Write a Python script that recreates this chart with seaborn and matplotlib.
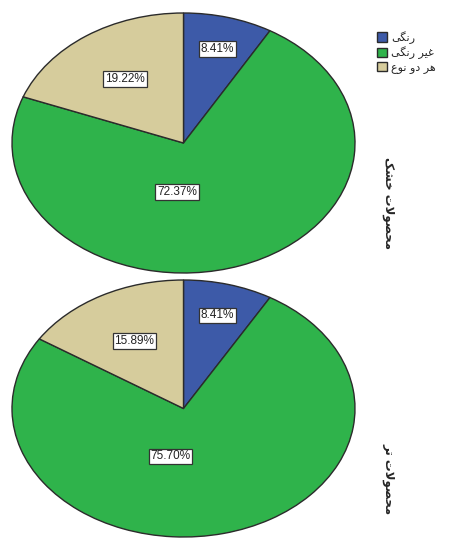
import matplotlib
matplotlib.use("Agg")
import matplotlib.pyplot as plt
import seaborn as sns
import numpy as np

# data
categories = ["رنگی", "غیر رنگی", "هر دو نوع"]
row_labels = ["محصولات خشک", "محصولات تر"]
dry_pct = [8.41, 72.37, 19.22]
wet_pct = [8.41, 75.70, 15.89]

colors = ["#3d5aa8", "#2fb34b", "#d6cc9c"]
edge = "#2b2b2b"

# --- minimal arabic/persian shaping (matplotlib has no text shaping) ---
FORMS = {
    "ر": ("\uFEAD", "\uFEAE", None, None),
    "د": ("\uFEA9", "\uFEAA", None, None),
    "و": ("\uFEED", "\uFEEE", None, None),
    "ا": ("\uFE8D", "\uFE8E", None, None),
    "ن": ("\uFEE5", "\uFEE6", "\uFEE7", "\uFEE8"),
    "گ": ("\uFB92", "\uFB93", "\uFB94", "\uFB95"),
    "ی": ("\uFBFC", "\uFBFD", "\uFBFE", "\uFBFF"),
    "غ": ("\uFECD", "\uFECE", "\uFECF", "\uFED0"),
    "ه": ("\uFEE9", "\uFEEA", "\uFEEB", "\uFEEC"),
    "ع": ("\uFEC9", "\uFECA", "\uFECB", "\uFECC"),
    "م": ("\uFEE1", "\uFEE2", "\uFEE3", "\uFEE4"),
    "ح": ("\uFEA1", "\uFEA2", "\uFEA3", "\uFEA4"),
    "ص": ("\uFEB9", "\uFEBA", "\uFEBB", "\uFEBC"),
    "ل": ("\uFEDD", "\uFEDE", "\uFEDF", "\uFEE0"),
    "ت": ("\uFE95", "\uFE96", "\uFE97", "\uFE98"),
    "خ": ("\uFEA5", "\uFEA6", "\uFEA7", "\uFEA8"),
    "ش": ("\uFEB5", "\uFEB6", "\uFEB7", "\uFEB8"),
    "ک": ("\uFB8E", "\uFB8F", "\uFB90", "\uFB91"),
}


def dual(c):
    return c in FORMS and FORMS[c][2] is not None


def shape(text):
    out = []
    i = 0
    n = len(text)
    while i < n:
        c = text[i]
        prev = text[i - 1] if i > 0 else None
        nxt = text[i + 1] if i + 1 < n else None
        if c not in FORMS:
            out.append(c)
            i += 1
            continue
        jp = dual(prev)
        if c == "ل" and nxt == "ا":
            out.append("\uFEFC" if jp else "\uFEFB")
            i += 2
            continue
        jn = dual(c) and nxt in FORMS
        f = FORMS[c]
        if jp and jn:
            out.append(f[3])
        elif jp:
            out.append(f[1])
        elif jn:
            out.append(f[2])
        else:
            out.append(f[0])
        i += 1
    return "".join(reversed(out))


sns.set_theme(style="white")
plt.rcParams["font.family"] = ["DejaVu Sans"]

fig = plt.figure(figsize=(4.56, 5.38), dpi=100)
W, H = 456, 538

# label radius and angle nudge per slice (SPSS-like placement)
label_r = [0.75, 0.38, 0.60]
label_da = [0, 25, 0]


def draw_pie(rect, vals):
    ax = fig.add_axes(rect)
    wedges, _, autotexts = ax.pie(
        vals, colors=colors, startangle=90, counterclock=False,
        autopct="%.2f%%", pctdistance=0.6,
        wedgeprops=dict(edgecolor=edge, linewidth=1.0),
        textprops=dict(fontsize=8.5, family="Liberation Sans", color="#222222"),
    )
    ax.set_aspect("auto")
    ax.set_xlim(-1, 1)
    ax.set_ylim(-1, 1)
    for w in wedges:
        w.set_clip_on(False)
    for k, (w, t) in enumerate(zip(wedges, autotexts)):
        ang = np.deg2rad((w.theta1 + w.theta2) / 2 - label_da[k])
        t.set_position((label_r[k] * np.cos(ang), label_r[k] * np.sin(ang)))
        t.set_bbox(dict(boxstyle="square,pad=0.15", facecolor="white",
                        edgecolor="#333333", linewidth=0.9))
    ax.axis("off")
    return ax, wedges


# pixel extents of the two ellipses
ax1, wedges = draw_pie([12 / W, 1 - 273 / H, 343 / W, 260 / H], dry_pct)
ax2, _ = draw_pie([12 / W, 1 - 537 / H, 343 / W, 257 / H], wet_pct)

leg = fig.legend(wedges, [shape(c) for c in categories],
                 loc="upper left", bbox_to_anchor=(377 / W, 1 - 31 / H),
                 frameon=False, fontsize=8, handlelength=0.9, handleheight=0.9,
                 handletextpad=0.4, labelspacing=0.25, borderpad=0, borderaxespad=0)

fig.text(389 / W, 1 - 203 / H, shape(row_labels[0]), rotation=-90,
         ha="center", va="center", fontsize=8.5, fontweight="bold")
fig.text(389 / W, 1 - 479 / H, shape(row_labels[1]), rotation=-90,
         ha="center", va="center", fontsize=8.5, fontweight="bold")

fig.savefig("out.png", dpi=100, facecolor="white")
